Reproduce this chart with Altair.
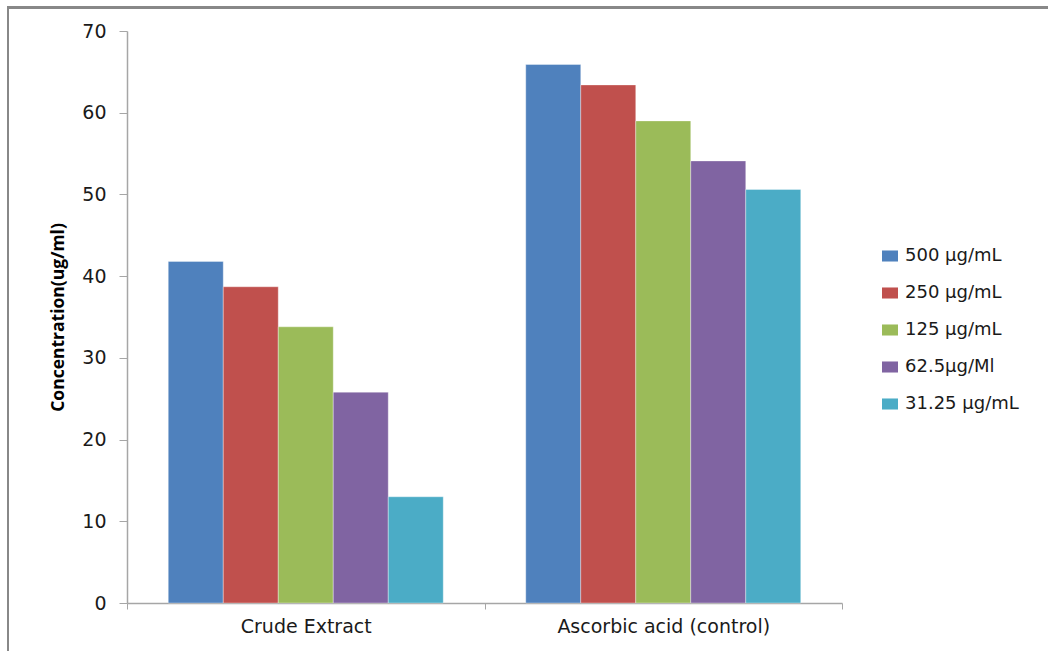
import altair as alt
import pandas as pd

# Groups on the x axis and the dose series within each group
categories = ["Crude Extract", "Ascorbic acid (control)"]
doses = ["500 µg/mL", "250 µg/mL", "125 µg/mL", "62.5µg/Ml", "31.25 µg/mL"]
colors = ["#4F81BD", "#C0504D", "#9BBB59", "#8064A2", "#4BACC6"]

# Measured concentration (ug/ml) per dose
crude_extract = [41.8, 38.7, 33.8, 25.8, 13.0]
ascorbic_acid = [65.9, 63.4, 59.0, 54.1, 50.6]

rows = []
for dose, v in zip(doses, crude_extract):
    rows.append({"Group": categories[0], "Dose": dose, "Value": v})
for dose, v in zip(doses, ascorbic_acid):
    rows.append({"Group": categories[1], "Dose": dose, "Value": v})
df = pd.DataFrame(rows)

W, H = 715, 572
LABEL_FONT = "DejaVu Sans"
TEXT = "#1a1a1a"
AXIS_GRAY = "#a6a6a6"

bars = alt.Chart(df).mark_bar(stroke="white", strokeOpacity=0.35, strokeWidth=1).encode(
    x=alt.X(
        "Group:N",
        sort=categories,
        scale=alt.Scale(paddingInner=0, paddingOuter=0),
        axis=alt.Axis(
            title=None,
            labelAngle=0,
            labelLimit=0,
            labelFont=LABEL_FONT,
            labelFontSize=19,
            labelColor=TEXT,
            labelPadding=8,
            tickBand="extent",
            tickSize=6,
            tickColor=AXIS_GRAY,
            domainColor=AXIS_GRAY,
            domainWidth=1.5,
        ),
    ),
    xOffset=alt.XOffset(
        "Dose:N",
        sort=doses,
        scale=alt.Scale(paddingInner=0, paddingOuter=0.75),
    ),
    y=alt.Y(
        "Value:Q",
        scale=alt.Scale(domain=[0, 70], nice=False),
        axis=alt.Axis(
            title="Concentration(ug/ml)",
            titleFont="Open Sans",
            titleFontSize=17.5,
            titleFontWeight="bold",
            titleColor="#000000",
            titleX=-69,
            titleY=H / 2,
            titleAngle=270,
            titleAlign="center",
            titleBaseline="middle",
            values=[0, 10, 20, 30, 40, 50, 60, 70],
            grid=False,
            labelFont=LABEL_FONT,
            labelFontSize=19,
            labelColor=TEXT,
            labelPadding=13,
            tickSize=8,
            tickColor=AXIS_GRAY,
            domainColor=AXIS_GRAY,
            domainWidth=1.5,
        ),
    ),
    color=alt.Color(
        "Dose:N",
        sort=doses,
        scale=alt.Scale(domain=doses, range=colors),
        legend=alt.Legend(
            title=None,
            orient="none",
            legendX=754,
            legendY=216,
            padding=0,
            labelFont=LABEL_FONT,
            labelFontSize=18,
            labelColor=TEXT,
            labelOffset=6,
            labelLimit=0,
            rowPadding=19,
            symbolType="M-1,-0.69H1V0.69H-1Z",
            symbolSize=256,
            symbolStrokeWidth=0,
        ),
    ),
)

# Outer frame of the figure (top and left edges)
frame_top = alt.Chart(df).mark_rule(color="#888888", strokeWidth=2).encode(
    x=alt.value(-119), x2=alt.value(921), y=alt.value(-23.5)
)
frame_left = alt.Chart(df).mark_rule(color="#888888", strokeWidth=2).encode(
    x=alt.value(-119), y=alt.value(-24.5), y2=alt.value(640)
)

chart = (
    alt.layer(bars, frame_top, frame_left)
    .properties(
        width=W,
        height=H,
        autosize=alt.AutoSizeParams(type="none"),
        padding={"left": 127, "top": 31, "right": 206, "bottom": 48},
        background="white",
    )
    .configure_view(stroke=None)
)

chart.save("out.html", embed_options={"renderer": "svg", "actions": False})
